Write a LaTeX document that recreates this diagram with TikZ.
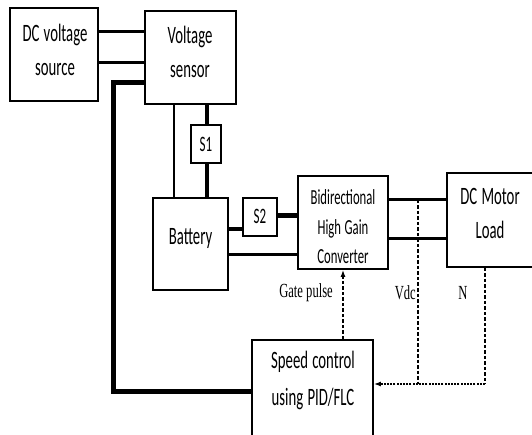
\documentclass[tikz,border=0pt]{standalone}
\usepackage{fontspec}
\setmainfont{Carlito}[FakeStretch=0.59]
\newfontfamily\labelfont{Liberation Serif}[FakeStretch=0.63]
\usetikzlibrary{arrows.meta}
\newcommand\mytsp{\spaceskip 0.17em plus 0.05em\relax}
\newcommand\bigtxt{\fontsize{25}{34}\selectfont\mytsp}
\newcommand\spdtxt{\fontsize{25}{37}\selectfont\mytsp}
\newcommand\convtxt{\fontsize{21.5}{29.5}\selectfont\mytsp}
\newcommand\swtxt{\fontsize{22}{22}\selectfont}
\begin{document}
\begin{tikzpicture}[x=1pt,y=-1pt,
  blk/.style={draw,line width=1.8pt,rectangle,inner sep=0pt},
  txt/.style={align=center,inner sep=0pt,font=\bigtxt},
  wire/.style={line width=3pt},
  thickwire/.style={line width=5pt},
  sig/.style={line width=1.3pt,dash pattern=on 3.5pt off 2pt},
  sigdot/.style={line width=1.3pt,dash pattern=on 2pt off 1.2pt},
  lab/.style={font=\labelfont\fontsize{20}{22}\selectfont,inner sep=0pt}]
\useasboundingbox (0,0) rectangle (532,435);
% blocks
\node[blk,minimum width=88pt,minimum height=93pt] (src) at (54,54.5) {};
\node[txt] (srct) at (55,50) {DC voltage\\source};
\node[blk,minimum width=91pt,minimum height=93pt] (sen) at (190.5,57.5) {};
\node[txt] (sent) at (190,51.5) {Voltage\\sensor};
\node[blk,minimum width=30pt,minimum height=38pt] (s1) at (206,144) {};
\node[txt,font=\swtxt] (s1t) at (206,144) {S1};
\node[blk,minimum width=75pt,minimum height=92pt] (bat) at (190.5,244) {};
\node[txt] (batt) at (190.5,238) {Battery};
\node[blk,minimum width=34pt,minimum height=38pt] (s2) at (260,217) {};
\node[txt,font=\swtxt] (s2t) at (260,216) {S2};
\node[blk,minimum width=90pt,minimum height=93pt] (conv) at (343,222.5) {};
\node[txt,font=\convtxt] (convt) at (343,227) {Bidirectional\\High Gain\\Converter};
\node[blk,minimum width=87pt,minimum height=94pt] (mot) at (490.5,220) {};
\node[txt] (mott) at (490,213.5) {DC Motor\\Load};
\node[blk,minimum width=121pt,minimum height=96pt] (spd) at (312.5,388) {};
\node[txt,font=\spdtxt] (spdt) at (313,380.5) {Speed control\\using PID/FLC};
% power wires
\draw[wire] (src.east |- 0,32) -- (sen.west |- 0,32);
\draw[wire] (src.east |- 0,63) -- (sen.west |- 0,63);
\coordinate (c1) at (113,83);
\coordinate (c2) at (113,391);
\draw[thickwire,line join=miter] (sen.west |- 0,83) -- (c1) -- (c2) -- (spd.west |- 0,391);
\draw[line width=2pt] (sen.south -| 174,0) -- (bat.north -| 174,0);
\draw[line width=3.5pt] (sen.south -| 207,0) -- (s1.north -| 207,0);
\draw[line width=3.5pt] (s1.south -| 207,0) -- (bat.north -| 207,0);
\draw[line width=4pt] (bat.east |- 0,229) -- (s2.west |- 0,229);
\draw[line width=5pt] (s2.east |- 0,216) -- (conv.west |- 0,216);
\draw[wire] (bat.east |- 0,255) -- (conv.west |- 0,255);
\draw[wire] (conv.east |- 0,200) -- (mot.west |- 0,200);
\draw[wire] (conv.east |- 0,239) -- (mot.west |- 0,239);
% signals
\draw[sig,-{Latex[length=7pt,width=5pt]}] (spd.north -| 343,0) -- (conv.south -| 343,0);
\coordinate (v1) at (418,200);
\coordinate (v2) at (418,384);
\coordinate (n2) at (485,384);
\draw[sig] (v1) -- (v2);
\draw[sig] (mot.south -| 485,0) -- (n2);
\draw[sigdot,-{Latex[length=7pt,width=5pt]}] (n2) -- (spd.east |- 0,384);
% labels
\node[lab,anchor=east] (lg) at (333,293) {Gate pulse};
\node[lab,anchor=east] (lv) at (416,293) {Vdc};
\node[lab] (ln) at (463,293) {N};
\end{tikzpicture}
\end{document}
